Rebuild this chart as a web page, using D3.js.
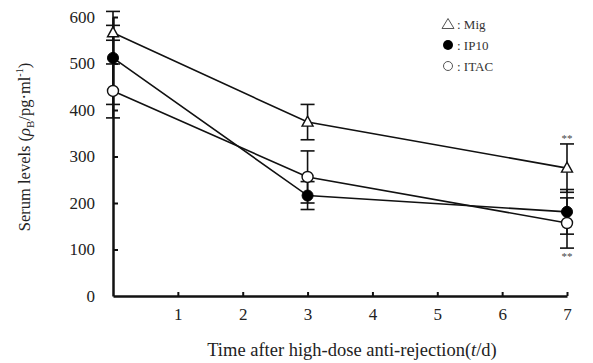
<!DOCTYPE html>
<html>
<head>
<meta charset="utf-8">
<script src="https://cdn.jsdelivr.net/npm/d3@7"></script>
<style>
  body { margin: 0; background: #fff; }
  svg { display: block; font-family: 'Liberation Serif', 'DejaVu Serif', serif; }
</style>
</head>
<body>
<svg id="chart" width="593" height="363"></svg>
<script>
// days after treatment
const days = [0, 3, 7];
const xTicks = [1, 2, 3, 4, 5, 6, 7];
const yTicks = [0, 100, 200, 300, 400, 500, 600];

// serum levels (pg/ml) with error (SD)
const migValues = [566, 374, 275];
const migErr = [16, 38, 52];
const ip10Values = [512, 216, 181];
const ip10Err = [100, 30, 48];
const itacValues = [441, 256, 157];
const itacErr = [58, 56, 54];

const seriesNames = ['Mig', 'IP10', 'ITAC'];
const seriesSymbols = ['triangle', 'dot', 'circle'];

const svg = d3.select('#chart');
const width = 593, height = 363;
const margin = { left: 113, right: 26, top: 17, bottom: 67 };

const x = d3.scaleLinear().domain([0, 7]).range([margin.left, width - margin.right]);
const y = d3.scaleLinear().domain([0, 600]).range([height - margin.bottom, margin.top]);

const series = seriesNames.map((name, i) => ({
  name,
  symbol: seriesSymbols[i],
  values: [migValues, ip10Values, itacValues][i],
  err: [migErr, ip10Err, itacErr][i]
}));

// axes
const xAxis = svg.append('g')
  .attr('transform', `translate(0,${y(0)})`)
  .call(d3.axisBottom(x).tickValues(xTicks).tickFormat(d3.format('d'))
    .tickSizeInner(-4).tickSizeOuter(0).tickPadding(10));
const yAxis = svg.append('g')
  .attr('transform', `translate(${x(0)},0)`)
  .call(d3.axisLeft(y).tickValues(yTicks).tickFormat(d3.format('d'))
    .tickSizeInner(-5).tickSizeOuter(0).tickPadding(18));

[xAxis, yAxis].forEach(g => {
  g.attr('font-family', null).attr('font-size', null);
  g.select('.domain').attr('stroke', '#111').attr('stroke-width', 2.5);
  g.selectAll('.tick line').attr('stroke', '#111').attr('stroke-width', 2);
  g.selectAll('.tick text').attr('fill', '#222').style('font-size', '17px')
    .style('font-family', "'Liberation Serif', serif");
});
yAxis.selectAll('.tick').filter(d => d === 0).select('line').remove();
xAxis.selectAll('.tick text').attr('dy', '0.85em');

// lines
const line = d3.line().x((d, i) => x(days[i])).y(d => y(d));
const plot = svg.append('g');
series.forEach(s => {
  plot.append('path')
    .datum(s.values)
    .attr('d', line)
    .attr('fill', 'none')
    .attr('stroke', '#111')
    .attr('stroke-width', 1.6);
});

// error bars
const capW = 7;
series.forEach(s => {
  s.values.forEach((v, i) => {
    const cx = x(days[i]);
    const g = plot.append('g').attr('stroke', '#111').attr('stroke-width', 1.6);
    g.append('line').attr('x1', cx).attr('x2', cx).attr('y1', y(v - s.err[i])).attr('y2', y(v + s.err[i]));
    [v - s.err[i], v + s.err[i]].forEach(e => {
      g.append('line').attr('x1', cx - capW).attr('x2', cx + capW).attr('y1', y(e)).attr('y2', y(e));
    });
  });
});

// markers
function drawMarker(g, symbol, cx, cy) {
  if (symbol === 'triangle') {
    const h = 10, w = 11;
    g.append('path')
      .attr('d', `M${cx},${cy - h * 0.6}L${cx + w / 2},${cy + h * 0.4}L${cx - w / 2},${cy + h * 0.4}Z`)
      .attr('fill', '#fff').attr('stroke', '#111').attr('stroke-width', 1.4);
  } else if (symbol === 'dot') {
    g.append('circle').attr('cx', cx).attr('cy', cy).attr('r', 5.5)
      .attr('fill', '#000').attr('stroke', '#000');
  } else {
    g.append('circle').attr('cx', cx).attr('cy', cy).attr('r', 5.5)
      .attr('fill', '#fff').attr('stroke', '#111').attr('stroke-width', 1.4);
  }
}
series.forEach(s => {
  s.values.forEach((v, i) => drawMarker(plot, s.symbol, x(days[i]), y(v)));
});

// significance marks at day 7
const sig = svg.append('g').attr('font-size', '11px').attr('fill', '#444').attr('text-anchor', 'middle');
sig.append('text').attr('x', x(7)).attr('y', y(migValues[2] + migErr[2]) - 2).text('**');
sig.append('text').attr('x', x(7)).attr('y', y(itacValues[2] - itacErr[2]) + 12).text('**');

// legend
const legend = svg.append('g').attr('transform', 'translate(448,24)');
series.forEach((s, i) => {
  const row = legend.append('g').attr('transform', `translate(0,${i * 21})`);
  if (s.symbol === 'triangle') {
    row.append('path').attr('d', 'M0,-5.5L6,4.5L-6,4.5Z').attr('fill', '#fff').attr('stroke', '#555').attr('stroke-width', 1);
  } else if (s.symbol === 'dot') {
    row.append('circle').attr('r', 5).attr('fill', '#000');
  } else {
    row.append('circle').attr('r', 4.5).attr('fill', '#fff').attr('stroke', '#555').attr('stroke-width', 1);
  }
  row.append('text').attr('x', 9).attr('y', 4.5)
    .attr('font-size', '13px').attr('fill', '#333')
    .text(': ' + s.name);
});

// axis titles
const yTitle = svg.append('text')
  .attr('transform', 'translate(30,147) rotate(-90)')
  .attr('text-anchor', 'middle')
  .attr('font-size', '16.5px')
  .attr('fill', '#222');
yTitle.append('tspan').text('Serum levels (');
yTitle.append('tspan').attr('font-style', 'italic').text('ρ');
yTitle.append('tspan').attr('font-size', '11px').attr('dy', 4).text('B');
yTitle.append('tspan').attr('dy', -4).text('/pg·ml');
yTitle.append('tspan').attr('font-size', '10px').attr('dy', -7).text('-1');
yTitle.append('tspan').attr('dy', 7).text(')');

const xTitle = svg.append('text')
  .attr('x', 352).attr('y', 356)
  .attr('text-anchor', 'middle')
  .attr('font-size', '18.5px')
  .attr('fill', '#222');
xTitle.append('tspan').text('Time after high-dose anti-rejection(');
xTitle.append('tspan').attr('font-style', 'italic').text('t');
xTitle.append('tspan').text('/d)');
</script>
</body>
</html>
